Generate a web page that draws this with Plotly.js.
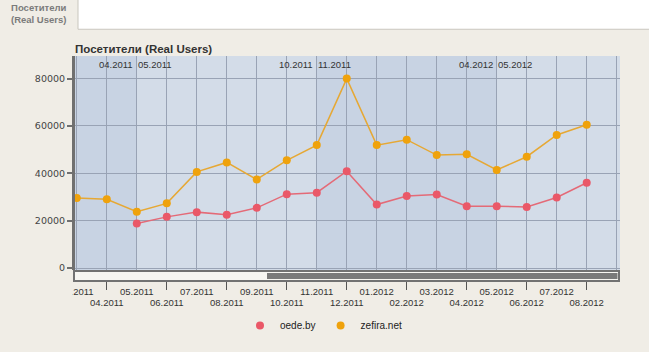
<!DOCTYPE html>
<html>
<head>
<meta charset="utf-8">
<script src="https://cdn.plot.ly/plotly-3.0.1.min.js"></script>
<style>
  html, body { margin: 0; padding: 0; background: #f0ede6; }
  #chart { width: 649px; height: 352px; }
</style>
</head>
<body>
<div id="chart"></div>
<script>
// ---- data ----
const months = ['03.2011','04.2011','05.2011','06.2011','07.2011','08.2011','09.2011','10.2011','11.2011','12.2011',
                '01.2012','02.2012','03.2012','04.2012','05.2012','06.2012','07.2012','08.2012','09.2012'];
const dataMonths = months.slice(0, 18);
const zefiraNet = [29600, 29000, 23800, 27300, 40600, 44600, 37400, 45500, 51900, 80000,
                   51900, 54200, 47700, 48000, 41400, 47000, 56200, 60500];
const oedeBy    = [null, null, 18800, 21600, 23600, 22500, 25400, 31200, 31800, 40900,
                   26800, 30400, 31000, 26100, 26100, 25800, 29800, 36000];
const rowOneTicks = ['03.2011','05.2011','07.2011','09.2011','11.2011','01.2012','03.2012','05.2012','07.2012'];
const rowTwoTicks = ['04.2011','06.2011','08.2011','10.2011','12.2011','02.2012','04.2012','06.2012','08.2012'];
const yTicks = [0, 20000, 40000, 60000, 80000];
const bandEdges = ['05.2011','11.2011','05.2012'];
const seriesNames = ['oede.by', 'zefira.net'];
const titleText = 'Посетители (Real Users)';
const tabText = 'Посетители<br>(Real Users)';

// ---- styling ----
const RED = '#ea5868', RED_LINE = '#e46a77';
const ORANGE = '#efa20c', ORANGE_LINE = '#e6a834';
const GRID = '#99a3b5';
const BG = '#f0ede6';
const W = 649, H = 352, L = 75, R = 29, T = 56, B = 80;
const PW = W - L - R, PH = H - T - B;
const px = x => (x - L) / PW;          // pixel -> paper x
const py = y => (H - B - y) / PH;      // pixel -> paper y

const traces = [
  { x: dataMonths, y: oedeBy, type: 'scatter', mode: 'lines+markers', name: seriesNames[0],
    line: { color: RED_LINE, width: 1.5 }, marker: { color: RED, size: 8 },
    showlegend: false, cliponaxis: false, connectgaps: false },
  { x: dataMonths, y: zefiraNet, type: 'scatter', mode: 'lines+markers', name: seriesNames[1],
    line: { color: ORANGE_LINE, width: 1.5 }, marker: { color: ORANGE, size: 8 },
    showlegend: false, cliponaxis: false },
  // legend entries (dots only), bound to the second-row label axis
  { x: [null], y: [null], xaxis: 'x2', type: 'scatter', mode: 'markers', name: seriesNames[0],
    marker: { color: RED, size: 8 }, showlegend: true },
  { x: [null], y: [null], xaxis: 'x2', type: 'scatter', mode: 'markers', name: seriesNames[1],
    marker: { color: ORANGE, size: 8 }, showlegend: true }
];

const xRange = [-0.06, 18.11];
const tickFontX = { family: 'Liberation Sans, Arial, sans-serif', size: 9.5, color: '#333' };

const shapes = [];
// darker half-year bands
const edgeIdx = bandEdges.map(m => months.indexOf(m));
const darkBands = [[-1, edgeIdx[0]], [edgeIdx[1], edgeIdx[2]]];
darkBands.forEach(([a, b]) => shapes.push({
  type: 'rect', xref: 'x', yref: 'paper', x0: a, x1: b, y0: 0, y1: 1,
  fillcolor: '#c8d3e3', line: { width: 0 }, layer: 'below'
}));
// scrollbar frame + thumb
shapes.push({ type: 'rect', xref: 'paper', yref: 'paper', x0: px(74), x1: px(619), y0: py(283), y1: py(273),
  fillcolor: '#f7f6f2', line: { color: '#727272', width: 2 }, layer: 'above' });
shapes.push({ type: 'rect', xref: 'paper', yref: 'paper', x0: px(267), x1: px(617.5), y0: py(281), y1: py(275),
  fillcolor: '#7a7a7a', line: { width: 0 }, layer: 'above' });
// cover that clips the first x label at the axis
shapes.push({ type: 'rect', xref: 'paper', yref: 'paper', x0: px(0), x1: px(72.5), y0: py(299), y1: py(285),
  fillcolor: BG, line: { width: 0 }, layer: 'above' });
// tab strip at the top
shapes.push({ type: 'rect', xref: 'paper', yref: 'paper', x0: px(78), x1: px(651), y0: py(29), y1: py(-2),
  fillcolor: '#ffffff', line: { color: '#c9c6be', width: 1 }, layer: 'above' });

const annotations = [];
edgeIdx.forEach(k => {
  annotations.push({ xref: 'x', yref: 'paper', x: k, y: 1, xanchor: 'right', yanchor: 'top', yshift: -1, xshift: -2,
    text: months[k - 1], showarrow: false, font: tickFontX });
  annotations.push({ xref: 'x', yref: 'paper', x: k, y: 1, xanchor: 'left', yanchor: 'top', yshift: -1, xshift: -1,
    text: months[k], showarrow: false, font: tickFontX });
});
annotations.push({ xref: 'paper', yref: 'paper', x: px(39), y: py(13), xanchor: 'center', yanchor: 'middle',
  text: tabText, showarrow: false,
  font: { family: 'Liberation Sans, Arial, sans-serif', size: 9.5, color: '#7b7b7b', weight: 'bold' } });

const layout = {
  width: W, height: H, autosize: false,
  margin: { l: L, r: R, t: T, b: B, pad: 0 },
  paper_bgcolor: BG, plot_bgcolor: '#d3dce8',
  title: { text: titleText, xref: 'paper', x: 0, xanchor: 'left', yref: 'container', y: 1 - 49 / H, yanchor: 'middle',
    font: { family: 'Liberation Sans, Arial, sans-serif', size: 11.5, color: '#333', weight: 'bold' } },
  showlegend: true,
  legend: { orientation: 'h', x: px(323.5), xanchor: 'center', y: py(328), yanchor: 'middle',
    font: { family: 'Liberation Sans, Arial, sans-serif', size: 10, color: '#222' }, bgcolor: 'rgba(0,0,0,0)' },
  xaxis: {
    type: 'category', categoryorder: 'array', categoryarray: months, range: xRange, fixedrange: true,
    tickmode: 'array', tickvals: rowOneTicks.concat([months[months.length - 1]]), ticktext: rowOneTicks.concat(['']),
    ticks: '', showgrid: true, gridcolor: GRID, gridwidth: 1, zeroline: false, showline: false,
    tickfont: tickFontX, ticklabelstandoff: 14
  },
  xaxis2: {
    type: 'category', categoryorder: 'array', categoryarray: months, range: xRange, fixedrange: true,
    overlaying: 'x', anchor: 'y', side: 'bottom',
    tickmode: 'array', tickvals: rowTwoTicks, ticktext: rowTwoTicks,
    ticks: 'outside', ticklen: 19, tickwidth: 1, tickcolor: '#555',
    showgrid: true, gridcolor: GRID, gridwidth: 1, zeroline: false, showline: false,
    tickfont: tickFontX, ticklabelstandoff: 5
  },
  yaxis: {
    range: [-840, 89540], fixedrange: true, tickmode: 'array', tickvals: yTicks, tickformat: 'd',
    showgrid: true, gridcolor: GRID, gridwidth: 1, zeroline: false,
    showline: true, linecolor: '#707070', linewidth: 3,
    ticks: 'outside', ticklen: 5, tickwidth: 2, tickcolor: '#707070',
    tickfont: { family: 'DejaVu Sans, Verdana, sans-serif', size: 9.5, color: '#444' }
  },
  shapes: shapes,
  annotations: annotations
};

Plotly.newPlot('chart', traces, layout, { staticPlot: true, displayModeBar: false });
</script>
</body>
</html>
